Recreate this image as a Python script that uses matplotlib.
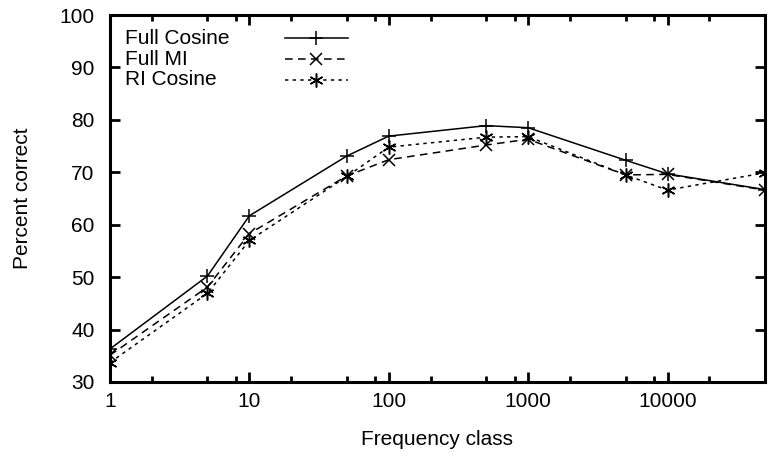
import matplotlib
matplotlib.use("Agg")
import matplotlib.pyplot as plt
from matplotlib.ticker import FixedLocator, NullFormatter
import numpy as np

plt.rcParams['font.family'] = ['Liberation Sans', 'DejaVu Sans']

freq = [1, 5, 10, 50, 100, 500, 1000, 5000, 10000, 50000]
full_cosine = [36.3, 50.2, 61.7, 73.1, 76.9, 78.9, 78.5, 72.3, 69.7, 66.7]
full_mi = [35.1, 48.1, 58.3, 69.3, 72.4, 75.2, 76.3, 69.5, 69.6, 66.6]
ri_cosine = [33.7, 46.9, 57.0, 69.2, 74.8, 76.7, 76.8, 69.5, 66.6, 69.9]

names = ['Full Cosine', 'Full MI', 'RI Cosine']
styles = [
    dict(ls='-', marker='+', ms=10),
    dict(ls=(0, (5, 3.5)), marker='x', ms=8),
    dict(ls=(0, (2.2, 2.8)), marker=(6, 2, 0), ms=10),
]

fig = plt.figure(figsize=(7.68, 4.59), dpi=100)
ax = fig.add_axes([0.1432, 0.1678, 0.8528, 0.7995])

for ys, name, st in zip([full_cosine, full_mi, ri_cosine], names, styles):
    ax.plot(freq, ys, color='black', lw=1.1, mew=1.1, label=name, **st)

ax.set_xscale('log')
ax.set_xlim(1, 50000)
ax.set_ylim(30, 100)

ax.xaxis.set_major_locator(FixedLocator([1, 10, 100, 1000, 10000]))
ax.set_xticklabels(['1', '10', '100', '1000', '10000'])
minors = [m * 10 ** d for d in range(5) for m in (2, 5, 8) if m * 10 ** d < 50000]
ax.xaxis.set_minor_locator(FixedLocator(minors))
ax.xaxis.set_minor_formatter(NullFormatter())
ax.set_yticks(np.arange(30, 101, 10))

for s in ax.spines.values():
    s.set_linewidth(2.2)
ax.tick_params(which='both', direction='in', top=True, right=True, labelsize=15, width=2)
ax.tick_params(which='major', length=7)
ax.tick_params(axis='y', which='major', pad=11)
ax.tick_params(axis='x', which='major', pad=7)
ax.tick_params(which='minor', length=4)

ax.set_xlabel('Frequency class', fontsize=15, labelpad=14)
ax.set_ylabel('Percent correct', fontsize=15, labelpad=20)

# gnuplot-style key: label left, sample on the right
key_y = [0.937, 0.880, 0.823]
for y, name, st in zip(key_y, names, styles):
    ax.text(0.023, y, name, transform=ax.transAxes, fontsize=15, ha='left', va='center')
    ax.plot([0.267, 0.363], [y, y], transform=ax.transAxes, color='black', lw=1.1,
            ls=st['ls'], clip_on=False)
    ax.plot([0.315], [y], transform=ax.transAxes, color='black', ls='none',
            marker=st['marker'], ms=st['ms'], mew=1.1, clip_on=False)

fig.savefig('out.png', dpi=100)
